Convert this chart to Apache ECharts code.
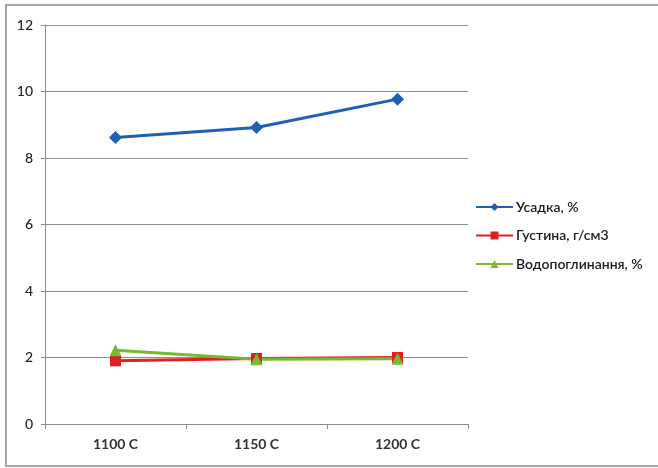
<!DOCTYPE html>
<html>
<head>
<meta charset="utf-8">
<script src="https://cdn.jsdelivr.net/npm/echarts@6/dist/echarts.min.js"></script>
<style>
  html, body { margin: 0; padding: 0; background: #fff; }
  #chart { width: 658px; height: 468px; }
</style>
</head>
<body>
<div id="chart"></div>
<script>
// Firing temperatures
const categories = ['1100 C', '1150 C', '1200 C'];
// Shrinkage, %
const shrinkage = [8.62, 8.92, 9.77];
// Density, g/cm3
const density = [1.9, 1.97, 2.0];
// Water absorption, %
const waterAbsorption = [2.22, 1.95, 1.96];
const yTicks = [0, 2, 4, 6, 8, 10, 12];

const FONT = 'Lato, "Open Sans", "DejaVu Sans", sans-serif';

const chart = echarts.init(document.getElementById('chart'));
chart.setOption({
  animation: false,
  backgroundColor: '#ffffff',
  graphic: [{
    type: 'rect',
    shape: { x: 6, y: 5, width: 680, height: 461 },
    style: { fill: 'none', stroke: '#a6a6a6', lineWidth: 2 },
    silent: true,
    z: -1
  }],
  grid: { left: 45, right: 190, top: 25, bottom: 44, containLabel: false },
  legend: {
    orient: 'vertical',
    left: 470,
    top: 195,
    itemGap: 14.5,
    itemWidth: 37,
    itemHeight: 10,
    textStyle: { fontFamily: FONT, fontSize: 14, color: '#1a1a1a', fontWeight: 600, padding: [0, 0, 0, -2] },
    data: ['Усадка, %', 'Густина, г/см3', 'Водопоглинання, %']
  },
  xAxis: {
    type: 'category',
    data: categories,
    boundaryGap: true,
    axisLine: { lineStyle: { color: '#8c8c8c', width: 1 } },
    axisTick: { show: true, length: 5, interval: 0, lineStyle: { color: '#8c8c8c' } },
    axisLabel: { fontFamily: FONT, fontSize: 14, color: '#333', margin: 13, fontWeight: 'bold' }
  },
  yAxis: {
    type: 'value',
    min: yTicks[0],
    max: yTicks[yTicks.length - 1],
    interval: 2,
    axisLine: { show: true, lineStyle: { color: '#8c8c8c', width: 1 } },
    axisTick: { show: true, length: 4, lineStyle: { color: '#8c8c8c' } },
    axisLabel: { fontFamily: FONT, fontSize: 14, color: '#222', margin: 12, fontWeight: 500 },
    splitLine: { lineStyle: { color: '#8c8c8c', width: 1 } }
  },
  series: [
    {
      name: 'Усадка, %',
      type: 'line',
      data: shrinkage,
      symbol: 'diamond',
      symbolSize: 13,
      lineStyle: { color: '#1f5fb4', width: 3 },
      itemStyle: { color: '#1f5fb4' }
    },
    {
      name: 'Густина, г/см3',
      type: 'line',
      data: density,
      symbol: 'rect',
      symbolSize: 11,
      lineStyle: { color: '#e02020', width: 3 },
      itemStyle: { color: '#e02020' }
    },
    {
      name: 'Водопоглинання, %',
      type: 'line',
      data: waterAbsorption,
      symbol: 'triangle',
      symbolSize: 12,
      lineStyle: { color: '#78b833', width: 3 },
      itemStyle: { color: '#78b833' }
    }
  ]
});
</script>
</body>
</html>
